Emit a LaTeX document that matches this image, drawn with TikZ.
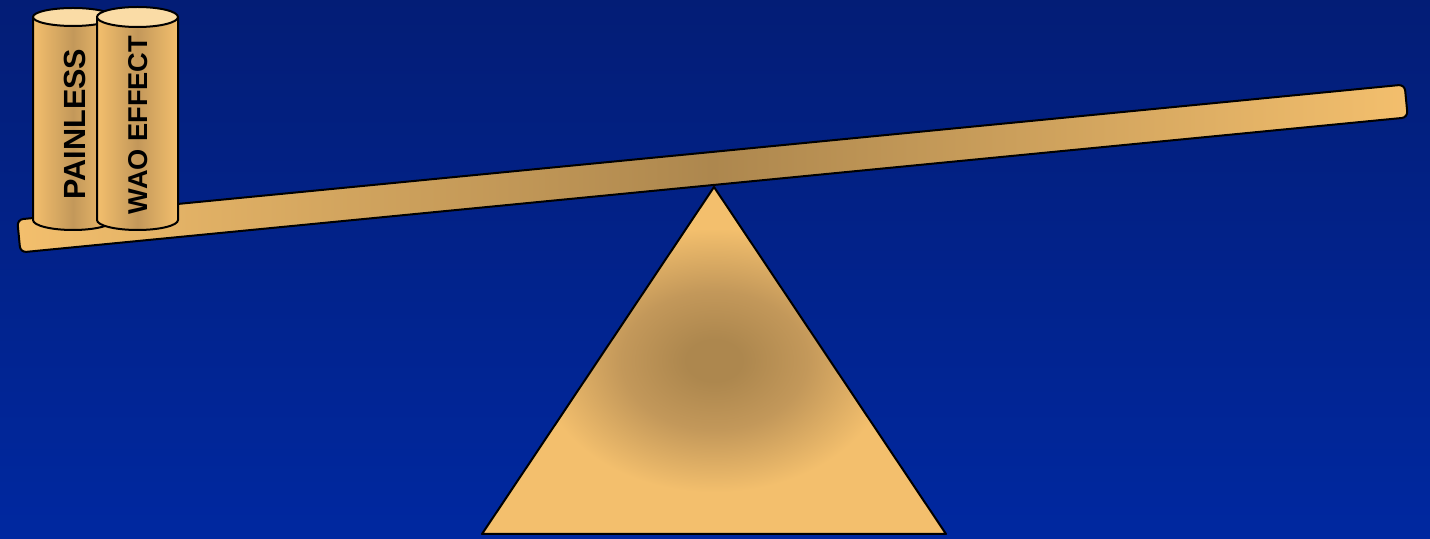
\documentclass[tikz,border=0pt]{standalone}
\usepackage{fontspec}
\setmainfont{Liberation Sans}
\definecolor{bgtop}{RGB}{3,29,118}
\definecolor{bgbot}{RGB}{0,40,160}
\definecolor{goldL}{RGB}{243,191,109}
\definecolor{goldD}{RGB}{173,135,78}
\definecolor{goldM}{RGB}{195,152,90}
\definecolor{goldT}{RGB}{250,220,166}
\pgfdeclareradialshading{trishade}{\pgfpoint{0bp}{0bp}}{color(0bp)=(goldD); color(3bp)=(goldD); color(10bp)=(goldM); color(19bp)=(goldL); color(50bp)=(goldL)}
\tikzset{
  outline/.style={draw=black, line width=1pt, line join=round},
  cylbody/.style={outline, left color=goldL, right color=goldL, middle color=goldM},
  cyltop/.style={outline, fill=goldT},
  label/.style={rotate=90, font=\bfseries, text=black, inner sep=0pt},
}
\begin{document}
\begin{tikzpicture}[x=0.5pt,y=-0.5pt]
\path[use as bounding box, top color=bgtop, bottom color=bgbot] (0,0) rectangle (1430,539);
% fulcrum
\coordinate (apex) at (714,187);
\coordinate (bl) at (482,534);
\coordinate (br) at (946,534);
\path[outline, shading=trishade] (apex) -- (bl) -- (br) -- cycle;
% beam
\node[outline, rounded corners=3pt, minimum width=697pt, minimum height=16.5pt, inner sep=0pt,
      left color=goldL, right color=goldL, middle color=goldD, rotate=5.56] (beam) at (712.5,168.5) {};
% cylinder 1
\path[cylbody] (33,17) -- (33,220) arc[start angle=180, end angle=0, x radius=40, y radius=10] -- (113,17) -- cycle;
\path[cyltop] (73,17) ellipse[x radius=40, y radius=9];
\node[label, font=\bfseries\fontsize{15.3pt}{16pt}\selectfont] (painless) at (75,124) {PAINLESS};
% cylinder 2
\path[cylbody] (97,17) -- (97,220) arc[start angle=180, end angle=0, x radius=40.5, y radius=10] -- (178,17) -- cycle;
\path[cyltop] (137.5,17) ellipse[x radius=40.5, y radius=10];
\node[label, font=\bfseries\fontsize{13.6pt}{14pt}\selectfont] (wao) at (138,125) {WAO EFFECT};
\end{tikzpicture}
\end{document}
